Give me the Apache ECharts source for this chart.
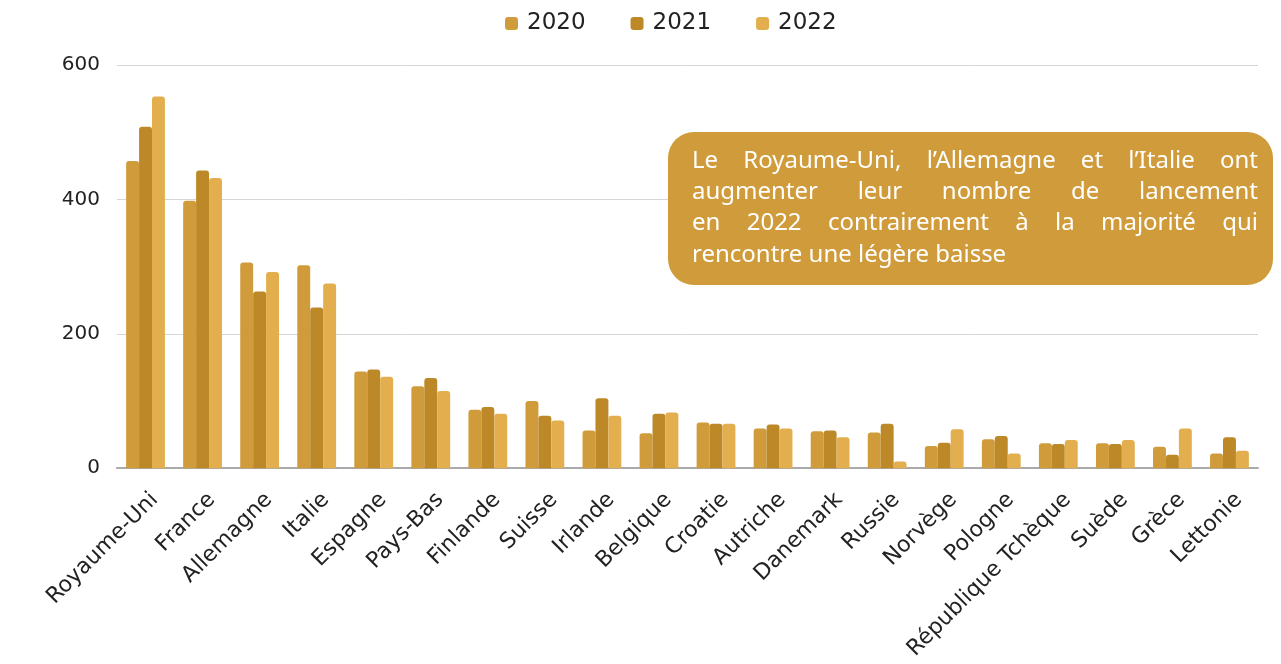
<!DOCTYPE html>
<html>
<head>
<meta charset="utf-8">
<script src="https://cdn.jsdelivr.net/npm/echarts@6/dist/echarts.min.js"></script>
<style>
  html, body { margin: 0; padding: 0; background: #fff; }
  #chart { width: 1281px; height: 664px; }
</style>
</head>
<body>
<div id="chart"></div>
<script>
var pays = ['Royaume-Uni', 'France', 'Allemagne', 'Italie', 'Espagne', 'Pays-Bas', 'Finlande', 'Suisse', 'Irlande', 'Belgique',
  'Croatie', 'Autriche', 'Danemark', 'Russie', 'Norvège', 'Pologne', 'République Tchèque', 'Suède', 'Grèce', 'Lettonie'];
var annees = ['2020', '2021', '2022'];
var val2020 = [457, 398, 306, 302, 144, 122, 87, 100, 56, 52, 68, 59, 55, 53, 33, 43, 37, 37, 32, 22];
var val2021 = [508, 443, 263, 239, 147, 134, 91, 78, 104, 81, 66, 65, 56, 66, 38, 48, 36, 36, 20, 46];
var val2022 = [553, 432, 292, 275, 136, 115, 81, 71, 78, 83, 66, 59, 46, 10, 58, 22, 42, 42, 59, 26];
var couleurs = ['#D09B3A', '#BC8828', '#E3AF4E'];
var yTicks = [0, 200, 400, 600];

var note = [
  'Le Royaume-Uni, l\u2019Allemagne et l\u2019Italie ont',
  'augmenter leur nombre de lancement',
  'en 2022 contrairement à la majorité qui',
  'rencontre une légère baisse'
];

var police = '"DejaVu Sans", "Noto Sans", sans-serif';
var policeNote = '"Noto Sans", "DejaVu Sans", sans-serif';

// boite d'annotation
var boite = { x: 668, y: 132, w: 605, h: 153 };
var texteX = 692, texteW = 566, texteY = 161, interligne = 31.3;

var ctx = document.createElement('canvas').getContext('2d');
// taille de police pour que la ligne la plus longue tienne
ctx.font = '100px ' + policeNote;
var plusLongue = 0;
note.forEach(function (l) { plusLongue = Math.max(plusLongue, ctx.measureText(l).width); });
var taille = Math.min(24, Math.floor(texteW / plusLongue * 100 * 10) / 10);
ctx.font = taille + 'px ' + policeNote;

// texte justifie : un element par mot
function lignesJustifiees() {
  var els = [];
  var font = taille + 'px ' + policeNote;
  note.forEach(function (ligne, i) {
    var y = texteY + i * interligne;
    var mots = ligne.split(' ');
    if (i == note.length - 1) {
      els.push({ type: 'text', x: texteX, y: y, z: 12, style: { text: ligne, fill: '#fff', font: font, verticalAlign: 'middle' } });
      return;
    }
    var total = 0;
    mots.forEach(function (m) { total += ctx.measureText(m).width; });
    var espace = (texteW - total) / (mots.length - 1);
    var x = texteX;
    mots.forEach(function (m) {
      els.push({ type: 'text', x: x, y: y, z: 12, style: { text: m, fill: '#fff', font: font, verticalAlign: 'middle' } });
      x += ctx.measureText(m).width + espace;
    });
  });
  return els;
}

var series = [val2020, val2021, val2022].map(function (d, i) {
  return {
    name: annees[i],
    type: 'bar',
    data: d,
    barGap: '0%',
    barCategoryGap: '32%',
    itemStyle: { color: couleurs[i], borderRadius: [3, 3, 0, 0] }
  };
});

var chart = echarts.init(document.getElementById('chart'));
var graphics = [
  {
    type: 'rect',
    shape: { x: boite.x, y: boite.y, width: boite.w, height: boite.h, r: 26 },
    style: { fill: '#D09B3A' },
    z: 10
  }
].concat(lignesJustifiees());

chart.setOption({
  animation: false,
  textStyle: { fontFamily: police },
  legend: {
    top: 7,
    left: 500,
    itemWidth: 13,
    itemHeight: 13,
    itemGap: 45,
    icon: 'roundRect',
    textStyle: { fontSize: 23, color: '#222', fontFamily: police, padding: [0, 0, 0, 4] },
    data: annees
  },
  grid: { left: 117, right: 23, top: 65, bottom: 194 },
  xAxis: {
    type: 'category',
    data: pays,
    axisTick: { show: false },
    axisLine: { lineStyle: { color: '#aaa', width: 2 } },
    axisLabel: {
      rotate: 45, fontSize: 22, color: '#222', interval: 0, margin: 19,
      verticalAlign: 'top', lineHeight: 26, fontFamily: police
    }
  },
  yAxis: {
    type: 'value',
    min: yTicks[0],
    max: yTicks[yTicks.length - 1],
    interval: 200,
    axisLabel: { fontSize: 20, color: '#222', margin: 17, fontFamily: police },
    splitLine: { lineStyle: { color: '#d6d6d6', width: 1 } }
  },
  series: series,
  graphic: graphics
});
</script>
</body>
</html>
